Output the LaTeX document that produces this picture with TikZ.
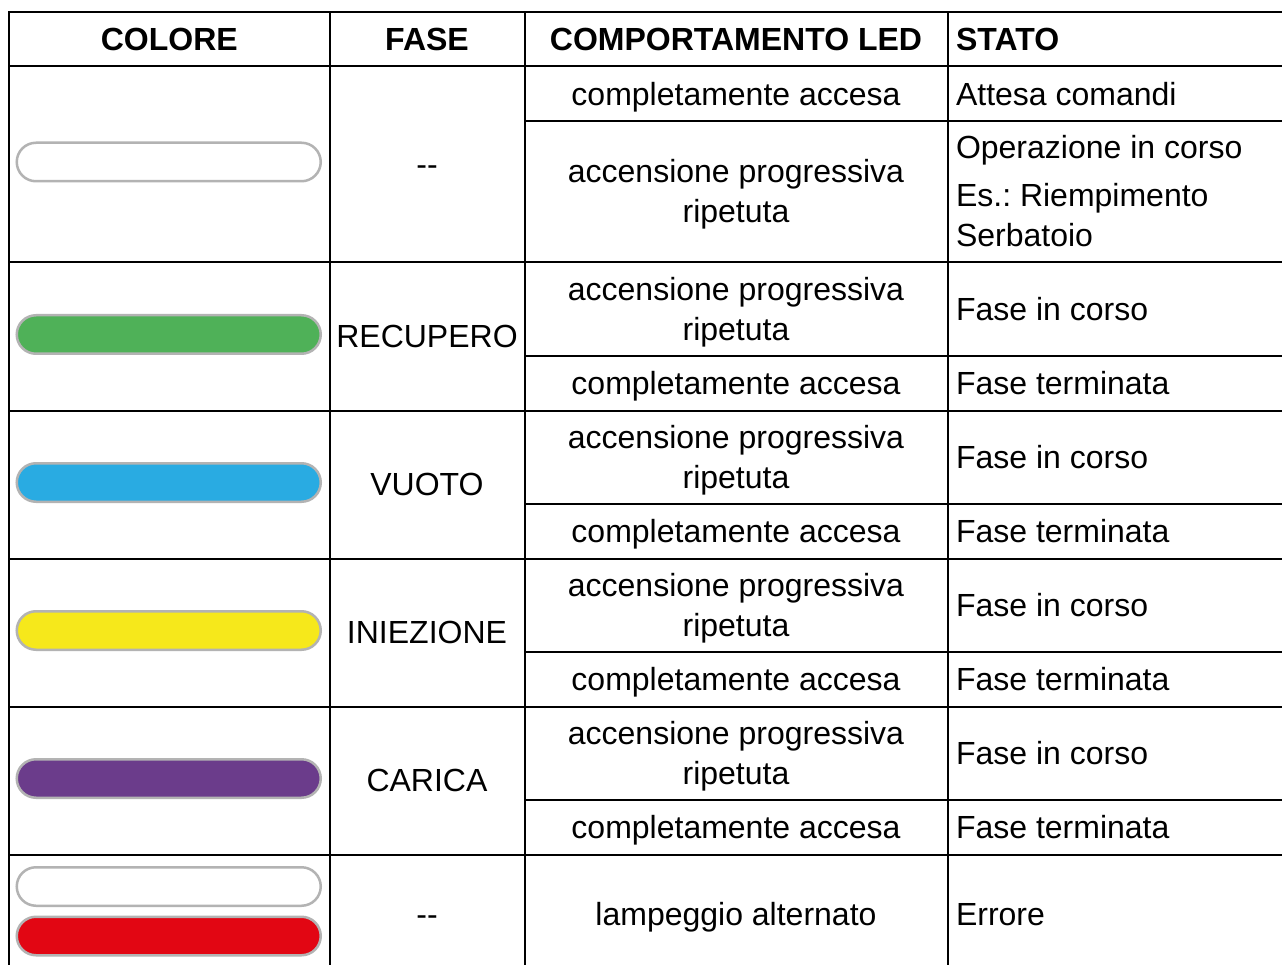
\documentclass[tikz,border=0pt]{standalone}
\usepackage{fontspec}
\setmainfont{Liberation Sans}
\usetikzlibrary{shapes.misc}
\definecolor{pillgray}{HTML}{B3B3B3}
\definecolor{ledgreen}{HTML}{4FB158}
\definecolor{ledblue}{HTML}{29ABE2}
\definecolor{ledyellow}{HTML}{F6E81B}
\definecolor{ledpurple}{HTML}{6B3C8B}
\definecolor{ledred}{HTML}{E20613}
\newcommand\lst{\rule[-6pt]{0pt}{34pt}}
\newcommand\dd{-\kern0pt-}
\frenchspacing
\begin{document}
\begin{tikzpicture}[x=1pt,y=-1pt,
  gridline/.style={line width=2pt,black,line cap=rect},
  pill/.style={rounded rectangle, draw=pillgray, line width=2.5pt, minimum width=304pt, minimum height=38.5pt, inner sep=0pt},
  cell/.style={inner sep=0pt, outer sep=0pt, font=\fontsize{32pt}{40pt}\selectfont\frenchspacing, align=center},
  hcell/.style={cell, font=\fontsize{32pt}{40pt}\selectfont\bfseries},
  lcell/.style={cell, align=left, anchor=west}]
\useasboundingbox (0,0) rectangle (1282,965);
\fill[white] (0,0) rectangle (1282,965);

% grid
\foreach \yy in {12,66.5,262.5,410.5,558.5,706.5,854.5}
  \draw[gridline] (9,\yy) -- (1295,\yy);
\foreach \yy in {121,356,504,652,800}
  \draw[gridline] (524.5,\yy) -- (1295,\yy);
\foreach \xx in {9,329.5,524.5,947.5}
  \draw[gridline] (\xx,12) -- (\xx,975);

% header
\node[hcell] (hcolore) at (169.25,40) {\lst COLORE};
\node[hcell] (hfase) at (427,40) {\lst FASE};
\node[hcell] (hcomp) at (736,40) {\lst COMPORTAMENTO LED};
\node[hcell, anchor=west] (hstato) at (956,40) {\lst STATO};

% block 0: white
\node[pill, fill=white] (p0) at (168.75,162) {};
\node[cell] (f0) at (427,164.5) {\lst \dd};
\node[cell] (c0a) at (736,94.5) {\lst completamente accesa};
\node[lcell] (s0a) at (956,94.5) {\lst Attesa comandi};
\node[cell] (c0b) at (736,192.25) {\lst accensione progressiva\\\lst ripetuta};
\node[lcell] (s0b) at (956,192) {\lst Operazione in corso\\[8pt]\lst Es.: Riempimento\\\lst Serbatoio};

% block 1: green
\node[pill, fill=ledgreen] (p1) at (168.75,334.5) {};
\node[cell] (f1) at (427,336.5) {\lst RECUPERO};
\node[cell] (c1a) at (736,309.75) {\lst accensione progressiva\\\lst ripetuta};
\node[lcell] (s1a) at (956,309.75) {\lst Fase in corso};
\node[cell] (c1b) at (736,383.75) {\lst completamente accesa};
\node[lcell] (s1b) at (956,383.75) {\lst Fase terminata};

% block 2: blue
\node[pill, fill=ledblue] (p2) at (168.75,482.5) {};
\node[cell] (f2) at (427,484.5) {\lst VUOTO};
\node[cell] (c2a) at (736,457.75) {\lst accensione progressiva\\\lst ripetuta};
\node[lcell] (s2a) at (956,457.75) {\lst Fase in corso};
\node[cell] (c2b) at (736,531.75) {\lst completamente accesa};
\node[lcell] (s2b) at (956,531.75) {\lst Fase terminata};

% block 3: yellow
\node[pill, fill=ledyellow] (p3) at (168.75,630.5) {};
\node[cell] (f3) at (427,632.5) {\lst INIEZIONE};
\node[cell] (c3a) at (736,605.75) {\lst accensione progressiva\\\lst ripetuta};
\node[lcell] (s3a) at (956,605.75) {\lst Fase in corso};
\node[cell] (c3b) at (736,679.75) {\lst completamente accesa};
\node[lcell] (s3b) at (956,679.75) {\lst Fase terminata};

% block 4: purple
\node[pill, fill=ledpurple] (p4) at (168.75,778.5) {};
\node[cell] (f4) at (427,780.5) {\lst CARICA};
\node[cell] (c4a) at (736,753.75) {\lst accensione progressiva\\\lst ripetuta};
\node[lcell] (s4a) at (956,753.75) {\lst Fase in corso};
\node[cell] (c4b) at (736,827.75) {\lst completamente accesa};
\node[lcell] (s4b) at (956,827.75) {\lst Fase terminata};

% block 5: error
\node[pill, fill=white] (p5a) at (168.75,886.5) {};
\node[pill, fill=ledred] (p5b) at (168.75,936) {};
\node[cell] (f5) at (427,914.5) {\lst \dd};
\node[cell] (c5) at (736,914.5) {\lst lampeggio alternato};
\node[lcell] (s5) at (956,914.5) {\lst Errore};
\end{tikzpicture}
\end{document}
